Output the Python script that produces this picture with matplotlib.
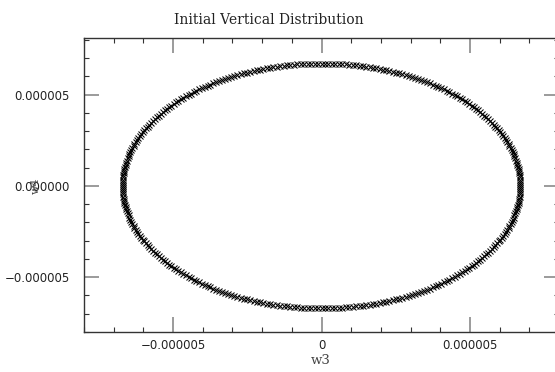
import matplotlib
matplotlib.use("Agg")
import matplotlib.pyplot as plt
from matplotlib.ticker import FixedLocator, FixedFormatter, MultipleLocator

# particle coordinates (units of 1e-6)
w3 = [6.70, 6.70,6.70,6.69,6.68,6.67,6.66,6.65,6.64,6.62,6.60,6.58,6.55,6.53,6.50,6.47,6.44,6.41,6.37,6.33,6.30,6.26,6.21,6.17,6.12,6.07,6.02,5.97,5.92,5.86,5.80,5.74,5.68,5.62,5.55,5.49,5.42,5.35,5.28,5.21,5.13,5.06,4.98,4.90,4.82,4.74,4.65,4.57,4.48,4.40,4.31,4.22,4.13,4.03,3.94,3.84,3.75,3.65,3.55,3.45,3.35,3.25,3.15,3.04,2.94,2.83,2.72,2.62,2.51,2.40,2.29,2.18,2.07,1.96,1.85,1.73,1.62,1.51,1.39,1.28,1.16,1.05,0.93,0.82,0.70,0.58,0.47,0.35,0.23,0.12,0.00,
      -0.12,-0.23,-0.35,-0.47,-0.58,-0.70,-0.82,-0.93,-1.05,-1.16,-1.28,-1.39,-1.51,-1.62,-1.73,-1.85,-1.96,-2.07,-2.18,-2.29,-2.40,-2.51,-2.62,-2.72,-2.83,-2.94,-3.04,-3.15,-3.25,-3.35,-3.45,-3.55,-3.65,-3.75,-3.84,-3.94,-4.03,-4.13,-4.22,-4.31,-4.40,-4.48,-4.57,-4.65,-4.74,-4.82,-4.90,-4.98,-5.06,-5.13,-5.21,-5.28,-5.35,-5.42,-5.49,-5.55,-5.62,-5.68,-5.74,-5.80,-5.86,-5.92,-5.97,-6.02,-6.07,-6.12,-6.17,-6.21,-6.26,-6.30,-6.33,-6.37,-6.41,-6.44,-6.47,-6.50,-6.53,-6.55,-6.58,-6.60,-6.62,-6.64,-6.65,-6.66,-6.67,-6.68,-6.69,-6.70,-6.70,-6.70,
      -6.70,-6.70,-6.69,-6.68,-6.67,-6.66,-6.65,-6.64,-6.62,-6.60,-6.58,-6.55,-6.53,-6.50,-6.47,-6.44,-6.41,-6.37,-6.33,-6.30,-6.26,-6.21,-6.17,-6.12,-6.07,-6.02,-5.97,-5.92,-5.86,-5.80,-5.74,-5.68,-5.62,-5.55,-5.49,-5.42,-5.35,-5.28,-5.21,-5.13,-5.06,-4.98,-4.90,-4.82,-4.74,-4.65,-4.57,-4.48,-4.40,-4.31,-4.22,-4.13,-4.03,-3.94,-3.84,-3.75,-3.65,-3.55,-3.45,-3.35,-3.25,-3.15,-3.04,-2.94,-2.83,-2.72,-2.62,-2.51,-2.40,-2.29,-2.18,-2.07,-1.96,-1.85,-1.73,-1.62,-1.51,-1.39,-1.28,-1.16,-1.05,-0.93,-0.82,-0.70,-0.58,-0.47,-0.35,-0.23,-0.12,0.00,
      0.12,0.23,0.35,0.47,0.58,0.70,0.82,0.93,1.05,1.16,1.28,1.39,1.51,1.62,1.73,1.85,1.96,2.07,2.18,2.29,2.40,2.51,2.62,2.72,2.83,2.94,3.04,3.15,3.25,3.35,3.45,3.55,3.65,3.75,3.84,3.94,4.03,4.13,4.22,4.31,4.40,4.48,4.57,4.65,4.74,4.82,4.90,4.98,5.06,5.13,5.21,5.28,5.35,5.42,5.49,5.55,5.62,5.68,5.74,5.80,5.86,5.92,5.97,6.02,6.07,6.12,6.17,6.21,6.26,6.30,6.33,6.37,6.41,6.44,6.47,6.50,6.53,6.55,6.58,6.60,6.62,6.64,6.65,6.66,6.67,6.68,6.69,6.70,6.70]

w4 = [0.00,
      0.12,0.23,0.35,0.47,0.58,0.70,0.82,0.93,1.05,1.16,1.28,1.39,1.51,1.62,1.73,1.85,1.96,2.07,2.18,2.29,2.40,2.51,2.62,2.72,2.83,2.94,3.04,3.15,3.25,3.35,3.45,3.55,3.65,3.75,3.84,3.94,4.03,4.13,4.22,4.31,4.40,4.48,4.57,4.65,4.74,4.82,4.90,4.98,5.06,5.13,5.21,5.28,5.35,5.42,5.49,5.55,5.62,5.68,5.74,5.80,5.86,5.92,5.97,6.02,6.07,6.12,6.17,6.21,6.26,6.30,6.33,6.37,6.41,6.44,6.47,6.50,6.53,6.55,6.58,6.60,6.62,6.64,6.65,6.66,6.67,6.68,6.69,6.70,6.70,6.70,
      6.70,6.70,6.69,6.68,6.67,6.66,6.65,6.64,6.62,6.60,6.58,6.55,6.53,6.50,6.47,6.44,6.41,6.37,6.33,6.30,6.26,6.21,6.17,6.12,6.07,6.02,5.97,5.92,5.86,5.80,5.74,5.68,5.62,5.55,5.49,5.42,5.35,5.28,5.21,5.13,5.06,4.98,4.90,4.82,4.74,4.65,4.57,4.48,4.40,4.31,4.22,4.13,4.03,3.94,3.84,3.75,3.65,3.55,3.45,3.35,3.25,3.15,3.04,2.94,2.83,2.72,2.62,2.51,2.40,2.29,2.18,2.07,1.96,1.85,1.73,1.62,1.51,1.39,1.28,1.16,1.05,0.93,0.82,0.70,0.58,0.47,0.35,0.23,0.12,0.00,
      -0.12,-0.23,-0.35,-0.47,-0.58,-0.70,-0.82,-0.93,-1.05,-1.16,-1.28,-1.39,-1.51,-1.62,-1.73,-1.85,-1.96,-2.07,-2.18,-2.29,-2.40,-2.51,-2.62,-2.72,-2.83,-2.94,-3.04,-3.15,-3.25,-3.35,-3.45,-3.55,-3.65,-3.75,-3.84,-3.94,-4.03,-4.13,-4.22,-4.31,-4.40,-4.48,-4.57,-4.65,-4.74,-4.82,-4.90,-4.98,-5.06,-5.13,-5.21,-5.28,-5.35,-5.42,-5.49,-5.55,-5.62,-5.68,-5.74,-5.80,-5.86,-5.92,-5.97,-6.02,-6.07,-6.12,-6.17,-6.21,-6.26,-6.30,-6.33,-6.37,-6.41,-6.44,-6.47,-6.50,-6.53,-6.55,-6.58,-6.60,-6.62,-6.64,-6.65,-6.66,-6.67,-6.68,-6.69,-6.70,-6.70,-6.70,
      -6.70,-6.70,-6.69,-6.68,-6.67,-6.66,-6.65,-6.64,-6.62,-6.60,-6.58,-6.55,-6.53,-6.50,-6.47,-6.44,-6.41,-6.37,-6.33,-6.30,-6.26,-6.21,-6.17,-6.12,-6.07,-6.02,-5.97,-5.92,-5.86,-5.80,-5.74,-5.68,-5.62,-5.55,-5.49,-5.42,-5.35,-5.28,-5.21,-5.13,-5.06,-4.98,-4.90,-4.82,-4.74,-4.65,-4.57,-4.48,-4.40,-4.31,-4.22,-4.13,-4.03,-3.94,-3.84,-3.75,-3.65,-3.55,-3.45,-3.35,-3.25,-3.15,-3.04,-2.94,-2.83,-2.72,-2.62,-2.51,-2.40,-2.29,-2.18,-2.07,-1.96,-1.85,-1.73,-1.62,-1.51,-1.39,-1.28,-1.16,-1.05,-0.93,-0.82,-0.70,-0.58,-0.47,-0.35,-0.23,-0.12]

scale = 1e-6
x_ticks = [-5e-6, 0.0, 5e-6]
x_tick_labels = ["\u22120.000005", "0", "0.000005"]
y_ticks = [-5e-6, 0.0, 5e-6]
y_tick_labels = ["\u22120.000005", "0.000000", "0.000005"]

n = min(len(w3), len(w4))
xs = [v * scale for v in w3[:n]]
ys = [v * scale for v in w4[:n]]

fig = plt.figure(figsize=(5.55, 3.72), dpi=100)
ax = fig.add_axes([84/555, 40/372, 475/555, 294/372])
ax.plot(xs, ys, linestyle="none", marker="x", color="black",
        markersize=4.6, markeredgewidth=0.75)

ax.set_xlim(-8e-6, 8e-6)
ax.set_ylim(-8.0e-6, 8.1e-6)

ax.xaxis.set_major_locator(FixedLocator(x_ticks))
ax.xaxis.set_major_formatter(FixedFormatter(x_tick_labels))
ax.yaxis.set_major_locator(FixedLocator(y_ticks))
ax.yaxis.set_major_formatter(FixedFormatter(y_tick_labels))
ax.xaxis.set_minor_locator(MultipleLocator(1e-6))
ax.yaxis.set_minor_locator(MultipleLocator(1e-6))

ax.tick_params(which="both", direction="in", top=True, right=True,
               labelsize=8.5, labelcolor="#222222")
ax.tick_params(which="major", length=10.5, width=1.2, color="#8a8a8a")
ax.tick_params(axis="x", which="major", pad=5)
ax.tick_params(axis="y", which="major", pad=10)
ax.tick_params(which="minor", length=3.8, width=0.8, color="#333333")
for s in ax.spines.values():
    s.set_linewidth(1.0)
    s.set_color("#333333")

fig.text(269/555, 1 - 24/372, "Initial Vertical Distribution",
         ha="center", va="baseline", family="DejaVu Serif", fontsize=10,
         color="#222222")
fig.text(321/555, 1 - 360/372, "w3", ha="center", va="center",
         family="DejaVu Serif", fontsize=9.5, color="#444444")
fig.text(36/555, 1 - 186/372, "w4", ha="center", va="center", rotation=90,
         family="DejaVu Serif", fontsize=8, color="#444444")

fig.savefig("out.png", dpi=100)
